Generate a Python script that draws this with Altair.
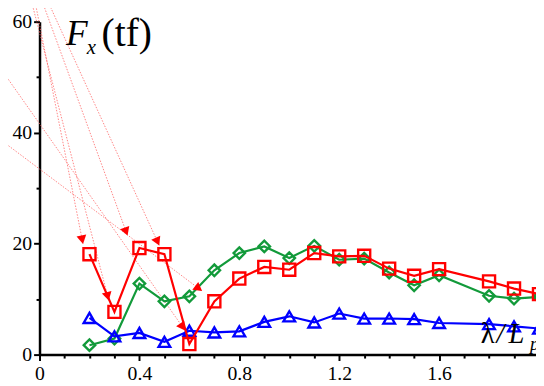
import math
import altair as alt
import pandas as pd

# ---------------- data ----------------
lam = [0.2, 0.3, 0.4, 0.5, 0.6, 0.7, 0.8, 0.9, 1.0, 1.1, 1.2, 1.3, 1.4, 1.5, 1.6, 1.8, 1.9, 2.0]
red_vals = [18.1, 7.7, 19.2, 18.1, 1.9, 9.6, 13.7, 15.8, 15.3, 18.3, 17.7, 17.8, 15.5, 14.2, 15.4, 13.2, 11.9, 10.9]
green_vals = [1.7, 2.9, 12.8, 9.6, 10.5, 15.2, 18.3, 19.5, 17.4, 19.6, 17.1, 17.3, 14.8, 12.5, 14.3, 10.6, 10.1, 10.4]
blue_vals = [6.6, 3.3, 3.9, 2.3, 4.3, 4.0, 4.2, 5.9, 6.9, 5.8, 7.4, 6.5, 6.5, 6.4, 5.7, 5.5, 5.1, 4.7]

# dotted annotation arrows (start -> tip), in data units
arrow_x0 = [-0.024, -0.040, 0.000, 0.020, -0.200, -0.200]
arrow_y0 = [65.0, 65.0, 65.0, 65.0, 54.4, 40.2]
arrow_x1 = [0.174, 0.277, 0.352, 0.479, 0.582, 0.650]
arrow_y1 = [20.0, 9.8, 21.5, 19.7, 4.4, 11.5]

x_ticks = [round(i * 0.1, 1) for i in range(0, 21)]
y_ticks = [0, 10, 20, 30, 40, 50, 60]

# ---------------- layout ----------------
W, H = 504, 338
XMAX = 1.988
PX_X = W / XMAX
PX_Y = H / 60.0
FONT = "Liberation Serif"

RED, GREEN, BLUE = "#ff0000", "#129a3a", "#0000ff"

xs = alt.Scale(domain=[0, XMAX], nice=False, zero=False)
ys = alt.Scale(domain=[0, 60], nice=False, zero=False)

df = pd.concat([
    pd.DataFrame({"lam": lam, "F": green_vals, "s": "green"}),
    pd.DataFrame({"lam": lam, "F": blue_vals, "s": "blue"}),
    pd.DataFrame({"lam": lam, "F": red_vals, "s": "red"}),
])

# arrows
arr_rows = []
for a, b, c, d in zip(arrow_x0, arrow_y0, arrow_x1, arrow_y1):
    dxp = (c - a) * PX_X
    dyp = -(d - b) * PX_Y
    L = math.hypot(dxp, dyp)
    ux, uy = dxp / L, dyp / L
    ang = math.degrees(math.atan2(ux, -uy)) % 360
    back = 4.0
    hx = c - ux * back / PX_X
    hy = d + uy * back / PX_Y
    arr_rows.append({"x0": a, "y0": b, "x1": c, "y1": d, "hx": hx, "hy": hy, "ang": ang})
arr = pd.DataFrame(arr_rows)

major_x = "round(datum.value*10) % 4 == 0"
major_y = "datum.value % 20 == 0"

x_axis = alt.Axis(
    values=x_ticks, title=None, grid=False,
    labelExpr=f"({major_x}) ? format(datum.value, '~g') : ''",
    tickSize={"condition": {"test": major_x, "value": 6}, "value": 3.5},
    tickWidth=2, tickColor="black", domainColor="black", domainWidth=2.5,
    labelFont=FONT, labelFontSize=20, labelColor="black", labelPadding=3,
    labelOverlap=False, labelFlush=False,
)
y_axis = alt.Axis(
    values=y_ticks, title=None, grid=False,
    labelExpr=f"({major_y}) ? format(datum.value, '~g') : ''",
    tickSize={"condition": {"test": major_y, "value": 6}, "value": 3.5},
    tickWidth=2, tickColor="black", domainColor="black", domainWidth=2.5,
    labelFont=FONT, labelFontSize=20, labelColor="black", labelPadding=2,
    labelOverlap=False, labelFlush=False,
)

def X(f):
    return alt.X(f, type="quantitative", scale=xs, axis=x_axis)

def Y(f):
    return alt.Y(f, type="quantitative", scale=ys, axis=y_axis)

base = alt.Chart(df)

def series(name, color, shape, size):
    d = base.transform_filter(alt.datum.s == name)
    line = d.mark_line(color=color, strokeWidth=2.2).encode(x=X("lam"), y=Y("F"))
    pts = d.mark_point(shape=shape, filled=False, color=color, size=size,
                       strokeWidth=2.4, opacity=1).encode(x=X("lam"), y=Y("F"))
    return line + pts

arrow_lines = alt.Chart(arr).mark_rule(color="#ff6666", strokeWidth=1,
                                        strokeDash=[1.5, 1.5], opacity=0.8).encode(
    x=X("x0"), y=Y("y0"), x2="x1:Q", y2="y1:Q",
)
arrow_heads = alt.Chart(arr).mark_point(shape="triangle-up", filled=True, color=RED,
                                        size=100, opacity=1).encode(
    x=X("hx"), y=Y("hy"),
    angle=alt.Angle("ang:Q", scale=None),
)

# text labels
title_parts = ["F", "x", "(tf)"]
xlab_parts = ["λ", "/", "L", "pp"]

def txt(s, x, y, size, style="italic"):
    return alt.Chart(pd.DataFrame({"t": [s]})).mark_text(
        font=FONT, fontSize=size, fontStyle=style, align="left",
        baseline="alphabetic", color="black").encode(
        x=alt.value(x), y=alt.value(y), text="t:N")

texts = (
    txt(title_parts[0], 27, 24, 36)
    + txt(title_parts[1], 48, 33, 21)
    + txt(title_parts[2], 63, 25, 40, "normal")
    + txt(xlab_parts[0], 448, 326, 29, "normal")
    + txt(xlab_parts[1], 464, 326, 29)
    + txt(xlab_parts[2], 476, 326, 29)
    + txt(xlab_parts[3], 498, 333, 19)
)

chart = alt.layer(
    arrow_lines,
    series("green", GREEN, "diamond", 135),
    series("blue", BLUE, "triangle-up", 140),
    series("red", RED, "square", 150),
    arrow_heads,
    texts,
).properties(
    width=W, height=H,
    autosize=alt.AutoSizeParams(type="none"),
    padding={"left": 32, "top": 11, "right": 0, "bottom": 29},
    background="white",
).configure_view(stroke=None)

chart.save("out.html", embed_options={"renderer": "svg", "actions": False})
